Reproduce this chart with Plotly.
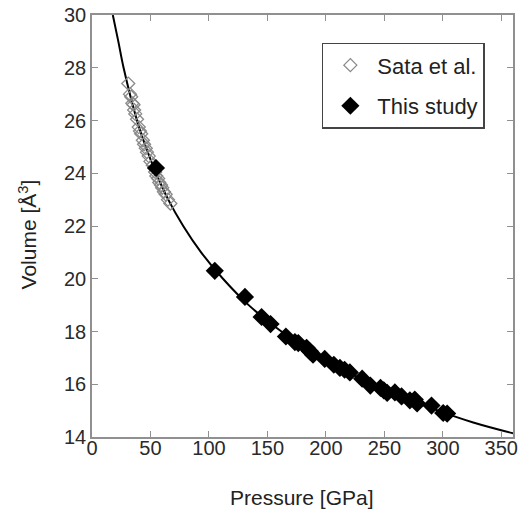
import plotly.graph_objects as go

# Fitted EOS curve
curve_p = [17.8, 22.5, 27, 38.5, 46, 54.8, 65.2, 78, 93.3, 112, 134, 162, 198, 239, 270, 296, 326, 360]
curve_v = [30, 29, 28, 26, 25, 24, 23, 22, 21, 20, 19, 18, 17, 16, 15.45, 15, 14.55, 14.14]

# Sata et al. (open diamonds)
sata_p = [31, 32.5, 33.5, 34.5, 35.5, 37, 36, 38.5, 40, 41, 42, 43.5, 44.5, 46, 47, 48.5,
          50, 52, 54, 55, 56.5, 57.5, 59, 60, 61.5, 63, 65, 67]
sata_v = [27.4, 27.0, 26.9, 26.65, 26.6, 26.25, 26.4, 26.05, 25.75, 25.6, 25.5, 25.25, 25.1, 24.95, 24.8, 24.65,
          24.45, 24.3, 24.05, 23.9, 23.8, 23.65, 23.55, 23.45, 23.3, 23.2, 23.0, 22.85]

# This study (filled diamonds)
study_p = [54.7, 105, 130.8, 145, 152.7, 165.8, 173.5, 176.4, 183.5, 186.3, 189, 199, 206.8, 212, 216,
           220.5, 231, 238, 246.7, 249.5, 252.4, 259, 264.7, 271.8, 276, 278, 290.3, 300.3, 303.7]
study_v = [24.2, 20.3, 19.31, 18.55, 18.28, 17.81, 17.6, 17.56, 17.38, 17.25, 17.12, 16.96, 16.74, 16.62, 16.55,
           16.45, 16.21, 15.95, 15.86, 15.77, 15.67, 15.69, 15.54, 15.39, 15.42, 15.27, 15.19, 14.91, 14.89]

x_ticks = [0, 50, 100, 150, 200, 250, 300, 350]
y_ticks = [14, 16, 18, 20, 22, 24, 26, 28, 30]

FONT = "Liberation Sans, Arial"

fig = go.Figure()
fig.add_trace(go.Scatter(x=curve_p, y=curve_v, mode="lines", line=dict(color="black", width=2, shape="spline"),
                         showlegend=False, hoverinfo="skip"))
fig.add_trace(go.Scatter(x=sata_p, y=sata_v, mode="markers", name="Sata et al.", legendgroup="a",
                         marker=dict(symbol="diamond-open", size=10, color="#8a8a8a", line=dict(width=1.3))))
fig.add_trace(go.Scatter(x=study_p, y=study_v, mode="markers", name="This study", legendgroup="b",
                         marker=dict(symbol="diamond", size=14, color="black")))

axis_common = dict(showline=True, linecolor="#909090", linewidth=1.5, mirror="ticks", ticks="inside",
                   ticklen=6, tickcolor="#909090", tickwidth=1.2, showgrid=False, zeroline=False,
                   automargin=False,
                   tickfont=dict(family=FONT, size=20, color="#2a2a2a"))

fig.update_layout(
    width=519, height=512,
    margin=dict(l=92, r=6, t=15, b=75),
    paper_bgcolor="white", plot_bgcolor="white",
    xaxis=dict(range=[0, 360], tickvals=x_ticks, ticktext=[str(t) for t in x_ticks],
               ticklabelstandoff=-8, **axis_common),
    yaxis=dict(range=[14, 30], tickvals=y_ticks, ticktext=[str(t) for t in y_ticks], **axis_common),
    legend=dict(x=0.546, y=0.934, xanchor="left", yanchor="top", bordercolor="#444", borderwidth=1.5,
                bgcolor="white", font=dict(family=FONT, size=22, color="#222"),
                tracegroupgap=9, itemwidth=44),
    showlegend=True,
    annotations=[
        dict(text="Pressure [GPa]", xref="paper", yref="paper", x=0.499, y=-0.1445,
             xanchor="center", yanchor="middle", showarrow=False,
             font=dict(family=FONT, size=21, color="#222")),
        dict(text="Volume [Å<sup>3</sup>]", xref="paper", yref="paper", x=-0.152, y=0.48,
             xanchor="center", yanchor="middle", showarrow=False, textangle=-90,
             font=dict(family=FONT, size=21, color="#222")),
    ],
)

# remove the browser's default 8px body margin so the figure fills the window
fig.write_html("out.html", config={"displayModeBar": False},
               post_script="document.body.style.margin='0px';")
